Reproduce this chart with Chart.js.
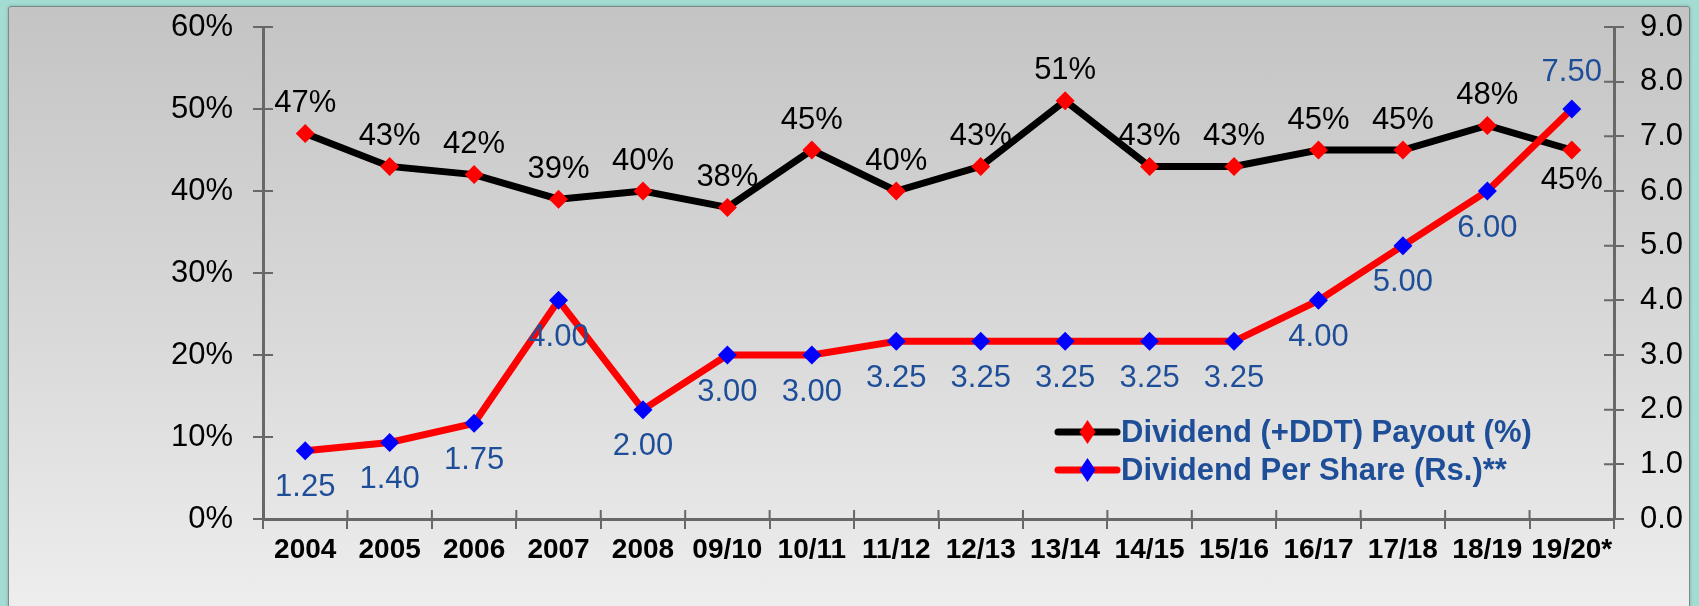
<!DOCTYPE html>
<html>
<head>
<meta charset="utf-8">
<script src="https://cdn.jsdelivr.net/npm/chart.js@4/dist/chart.umd.min.js"></script>
<style>
  html, body { margin: 0; padding: 0; }
  body {
    width: 1699px; height: 606px; overflow: hidden; position: relative;
    background: #a4dcd4;
  }
  #panel {
    position: absolute; left: 8px; top: 6px; width: 1680px; height: 620px;
    border: 1px solid #7f8a88; border-radius: 3px;
    background: linear-gradient(to bottom, #c4c4c4 0%, #dadada 55%, #efefef 100%);
    box-shadow: 0 0 3px rgba(60,120,110,0.5);
  }
  #chart { position: absolute; left: 0; top: 0; }
</style>
</head>
<body>
<div id="panel"></div>
<canvas id="chart" width="1699" height="606"></canvas>
<script>
// Chart data
const years = ['2004', '2005', '2006', '2007', '2008', '09/10', '10/11', '11/12',
  '12/13', '13/14', '14/15', '15/16', '16/17', '17/18', '18/19', '19/20*'];
const payoutPct = [47, 43, 42, 39, 40, 38, 45, 40, 43, 51, 43, 43, 45, 45, 48, 45];
const dividendPerShare = [1.25, 1.40, 1.75, 4.00, 2.00, 3.00, 3.00, 3.25, 3.25, 3.25, 3.25, 3.25, 4.00, 5.00, 6.00, 7.50];
const leftTicks = [0, 10, 20, 30, 40, 50, 60];
const rightTicks = [0, 1, 2, 3, 4, 5, 6, 7, 8, 9];

const FONT = "'Liberation Sans', Arial, sans-serif";
const AXIS_GRAY = '#686868';
const LABEL_BLUE = '#1f4e99';

// Value labels drawn next to each point
const valueLabels = {
  id: 'valueLabels',
  afterDatasetsDraw(chart) {
    const ctx = chart.ctx;
    chart.data.datasets.forEach((ds, di) => {
      const meta = chart.getDatasetMeta(di);
      ctx.save();
      ctx.font = '31px ' + FONT;
      ctx.fillStyle = ds.labelColor;
      ctx.textAlign = 'center';
      ctx.textBaseline = 'middle';
      meta.data.forEach((pt, i) => {
        const below = ds.labelBelow(i);
        const y = below ? pt.y + ds.labelGap : pt.y - ds.labelGap;
        ctx.fillText(ds.format(ds.data[i]), pt.x, y);
      });
      ctx.restore();
    });
  }
};

// Tick marks that cross the axis lines
const crossTicks = {
  id: 'crossTicks',
  afterDraw(chart) {
    const ctx = chart.ctx;
    const s = chart.scales;
    ctx.save();
    ctx.strokeStyle = AXIS_GRAY;
    ctx.lineWidth = 2;
    ctx.beginPath();
    s.y.ticks.forEach((t, i) => {
      const y = s.y.getPixelForTick(i);
      ctx.moveTo(s.y.right, y); ctx.lineTo(s.y.right + 10, y);
    });
    s.y1.ticks.forEach((t, i) => {
      const y = s.y1.getPixelForTick(i);
      ctx.moveTo(s.y1.left, y); ctx.lineTo(s.y1.left - 10, y);
    });
    const n = chart.data.labels.length;
    const step = (s.x.right - s.x.left) / n;
    for (let k = 0; k <= n; k++) {
      const x = s.x.left + k * step;
      ctx.moveTo(x, s.x.top); ctx.lineTo(x, s.x.top - 9);
    }
    ctx.stroke();
    ctx.restore();
  }
};

// Legend drawn inside the plot area
const innerLegend = {
  id: 'innerLegend',
  afterDraw(chart) {
    const ctx = chart.ctx;
    const x0 = 1058, x1 = 1117, textX = 1121;
    const rows = [432, 470];
    chart.data.datasets.forEach((ds, i) => {
      const y = rows[i];
      ctx.save();
      ctx.strokeStyle = ds.borderColor;
      ctx.lineWidth = 7;
      ctx.lineCap = 'round';
      ctx.beginPath();
      ctx.moveTo(x0, y); ctx.lineTo(x1, y);
      ctx.stroke();
      ctx.fillStyle = ds.pointBackgroundColor;
      const cx = (x0 + x1) / 2;
      ctx.beginPath();
      ctx.moveTo(cx - 8, y); ctx.lineTo(cx, y - 12); ctx.lineTo(cx + 8, y); ctx.lineTo(cx, y + 12);
      ctx.closePath();
      ctx.fill();
      ctx.font = 'bold 31px ' + FONT;
      ctx.fillStyle = LABEL_BLUE;
      ctx.textBaseline = 'middle';
      ctx.fillText(ds.label, textX, y + 1);
      ctx.restore();
    });
  }
};

const noPad = s => { s.paddingTop = 0; s.paddingBottom = 0; };

new Chart(document.getElementById('chart').getContext('2d'), {
  type: 'line',
  data: {
    labels: years,
    datasets: [
      {
        label: 'Dividend (+DDT) Payout (%)',
        data: payoutPct,
        yAxisID: 'y',
        borderColor: '#000000',
        borderWidth: 7,
        pointStyle: 'rectRot',
        pointRadius: 9.5,
        pointBorderWidth: 0,
        pointBackgroundColor: '#ff0000',
        tension: 0,
        order: 2,
        labelColor: '#000000',
        labelGap: 30,
        labelBelow: i => i === payoutPct.length - 1,
        format: v => v + '%'
      },
      {
        label: 'Dividend Per Share (Rs.)**',
        data: dividendPerShare,
        yAxisID: 'y1',
        borderColor: '#ff0000',
        borderWidth: 7,
        pointStyle: 'rectRot',
        pointRadius: 9.5,
        pointBorderWidth: 0,
        pointBackgroundColor: '#0000ff',
        tension: 0,
        order: 1,
        labelColor: LABEL_BLUE,
        labelGap: 37,
        labelBelow: i => i !== dividendPerShare.length - 1,
        format: v => v.toFixed(2)
      }
    ]
  },
  options: {
    responsive: false,
    animation: false,
    layout: { padding: { top: 27, left: 0, right: 0, bottom: 0 } },
    plugins: { legend: { display: false }, tooltip: { enabled: false } },
    scales: {
      x: {
        offset: true,
        grid: { offset: true, drawOnChartArea: false, tickLength: 10, color: AXIS_GRAY, lineWidth: 2 },
        border: { color: AXIS_GRAY, width: 3 },
        ticks: { color: '#000', font: { family: FONT, size: 28, weight: 'bold' }, padding: 4, maxRotation: 0, autoSkip: false },
        afterFit: s => { s.height = 87; s.paddingLeft = 0; s.paddingRight = 0; }
      },
      y: {
        position: 'left',
        min: leftTicks[0], max: leftTicks[leftTicks.length - 1],
        afterBuildTicks: s => { s.ticks = leftTicks.map(v => ({ value: v })); },
        grid: { drawOnChartArea: false, tickLength: 10, color: AXIS_GRAY, lineWidth: 2 },
        border: { color: AXIS_GRAY, width: 3 },
        ticks: { color: '#000', font: { family: FONT, size: 31 }, padding: 20, callback: v => v + '%' },
        afterFit: s => { s.width = 263; noPad(s); }
      },
      y1: {
        position: 'right',
        min: rightTicks[0], max: rightTicks[rightTicks.length - 1],
        afterBuildTicks: s => { s.ticks = rightTicks.map(v => ({ value: v })); },
        grid: { drawOnChartArea: false, tickLength: 10, color: AXIS_GRAY, lineWidth: 2 },
        border: { color: AXIS_GRAY, width: 3 },
        ticks: { color: '#000', font: { family: FONT, size: 31 }, padding: 16, callback: v => Number(v).toFixed(1) },
        afterFit: s => { s.width = 85; noPad(s); }
      }
    }
  },
  plugins: [valueLabels, crossTicks, innerLegend]
});
</script>
</body>
</html>
